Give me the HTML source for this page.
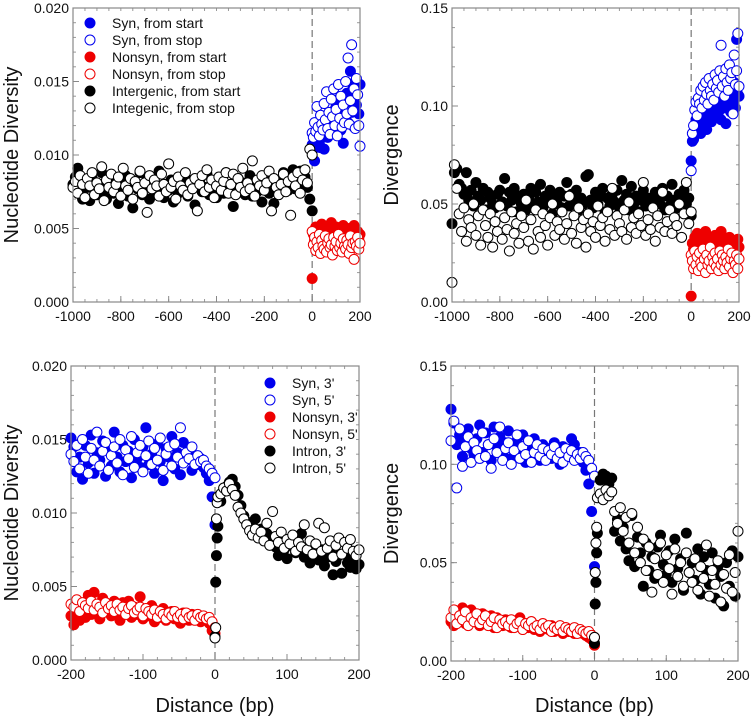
<!DOCTYPE html>
<html><head><meta charset="utf-8"><style>
html,body{margin:0;padding:0;background:#fff;}
svg{display:block;font-family:"Liberation Sans",Arial,sans-serif;}
</style></head><body>
<svg id="chart" width="751" height="719" viewBox="0 0 751 719" xmlns="http://www.w3.org/2000/svg"></svg>
<script>
// ---------- Panel A (top-left) data ----------
const xA_int=[-1000,-990,-980,-970,-960,-950,-940,-930,-920,-910,-900,-890,-880,-870,-860,-850,-840,-830,-820,-810,-800,-790,-780,-770,-760,-750,-740,-730,-720,-710,-700,-690,-680,-670,-660,-650,-640,-630,-620,-610,-600,-590,-580,-570,-560,-550,-540,-530,-520,-510,-500,-490,-480,-470,-460,-450,-440,-430,-420,-410,-400,-390,-380,-370,-360,-350,-340,-330,-320,-310,-300,-290,-280,-270,-260,-250,-240,-230,-220,-210,-200,-190,-180,-170,-160,-150,-140,-130,-120,-110,-100,-90,-80,-70,-60,-50,-40,-30,-20,-10,0];
const xA_cod=[0,5,10,15,20,25,30,35,40,45,50,55,60,65,70,75,80,85,90,95,100,105,110,115,120,125,130,135,140,145,150,155,160,165,170,175,180,185,190,195,200];
const A_intStart=[0.0080,0.0085,0.0091,0.0075,0.0070,0.0082,0.0078,0.0069,0.0084,0.0077,0.0073,0.0080,0.0088,0.0076,0.0070,0.0079,0.0083,0.0074,0.0078,0.0067,0.0081,0.0076,0.0086,0.0072,0.0079,0.0064,0.0080,0.0077,0.0088,0.0073,0.0078,0.0084,0.0070,0.0079,0.0082,0.0075,0.0089,0.0077,0.0071,0.0080,0.0076,0.0083,0.0068,0.0079,0.0074,0.0081,0.0077,0.0085,0.0072,0.0078,0.0080,0.0066,0.0079,0.0083,0.0075,0.0078,0.0087,0.0073,0.0080,0.0076,0.0071,0.0082,0.0078,0.0074,0.0088,0.0077,0.0080,0.0065,0.0079,0.0084,0.0076,0.0081,0.0073,0.0078,0.0086,0.0072,0.0079,0.0075,0.0082,0.0068,0.0077,0.0080,0.0074,0.0083,0.0067,0.0078,0.0081,0.0075,0.0088,0.0079,0.0076,0.0084,0.0090,0.0077,0.0082,0.0089,0.0080,0.0085,0.0078,0.0070,0.0062];
const A_intStop=[0.0078,0.0082,0.0074,0.0086,0.0080,0.0071,0.0084,0.0079,0.0088,0.0073,0.0081,0.0077,0.0092,0.0069,0.0083,0.0078,0.0087,0.0075,0.0080,0.0085,0.0072,0.0091,0.0079,0.0076,0.0084,0.0070,0.0082,0.0078,0.0089,0.0074,0.0081,0.0061,0.0086,0.0077,0.0083,0.0079,0.0072,0.0087,0.0080,0.0075,0.0094,0.0078,0.0082,0.0070,0.0085,0.0079,0.0076,0.0088,0.0073,0.0081,0.0077,0.0084,0.0062,0.0080,0.0086,0.0075,0.0090,0.0078,0.0083,0.0071,0.0079,0.0085,0.0076,0.0082,0.0088,0.0074,0.0080,0.0087,0.0073,0.0084,0.0078,0.0091,0.0075,0.0081,0.0077,0.0096,0.0072,0.0083,0.0079,0.0086,0.0076,0.0081,0.0089,0.0062,0.0084,0.0078,0.0073,0.0080,0.0087,0.0075,0.0082,0.0059,0.0085,0.0079,0.0088,0.0074,0.0083,0.0090,0.0081,0.0104,0.0100];
const A_synStart=[0.0107,0.0104,0.0096,0.0110,0.0106,0.0113,0.0108,0.0105,0.0112,0.0115,0.0104,0.0118,0.0121,0.0112,0.0125,0.0119,0.0127,0.0116,0.0130,0.0124,0.0133,0.0121,0.0138,0.0128,0.0117,0.0131,0.0108,0.0135,0.0126,0.0142,0.0122,0.0136,0.0157,0.0129,0.0145,0.0119,0.0150,0.0134,0.0141,0.0128,0.0148];
const A_synStop=[0.0115,0.0112,0.0122,0.0116,0.0133,0.0119,0.0113,0.0127,0.0121,0.0117,0.0135,0.0124,0.0143,0.0118,0.0129,0.0114,0.0138,0.0126,0.0145,0.0120,0.0131,0.0113,0.0148,0.0125,0.0140,0.0119,0.0134,0.0122,0.0150,0.0128,0.0166,0.0121,0.0137,0.0175,0.0130,0.0145,0.0118,0.0152,0.0141,0.0120,0.0106];
const A_nonStart=[0.0016,0.0046,0.0042,0.0051,0.0038,0.0044,0.0049,0.0040,0.0053,0.0043,0.0047,0.0039,0.0050,0.0045,0.0041,0.0048,0.0054,0.0042,0.0046,0.0039,0.0051,0.0044,0.0047,0.0040,0.0049,0.0043,0.0052,0.0045,0.0038,0.0048,0.0042,0.0050,0.0044,0.0047,0.0040,0.0052,0.0045,0.0041,0.0048,0.0043,0.0046];
const A_nonStop=[0.0048,0.0039,0.0044,0.0035,0.0041,0.0037,0.0046,0.0033,0.0042,0.0038,0.0036,0.0045,0.0034,0.0040,0.0043,0.0037,0.0039,0.0032,0.0044,0.0038,0.0041,0.0035,0.0046,0.0037,0.0040,0.0034,0.0043,0.0038,0.0036,0.0042,0.0039,0.0033,0.0045,0.0037,0.0040,0.0029,0.0041,0.0038,0.0044,0.0036,0.0040];
// ---------- Panel B (top-right) data ----------
const B_intStart=[0.040,0.066,0.068,0.060,0.058,0.055,0.066,0.052,0.057,0.049,0.061,0.054,0.052,0.058,0.047,0.056,0.053,0.050,0.048,0.055,0.057,0.051,0.063,0.049,0.056,0.052,0.058,0.046,0.054,0.050,0.055,0.047,0.053,0.058,0.049,0.056,0.051,0.060,0.048,0.054,0.052,0.057,0.045,0.053,0.050,0.056,0.048,0.054,0.061,0.049,0.055,0.051,0.057,0.047,0.053,0.050,0.064,0.065,0.052,0.048,0.056,0.050,0.054,0.058,0.046,0.053,0.049,0.055,0.051,0.057,0.048,0.062,0.052,0.055,0.047,0.059,0.050,0.054,0.046,0.052,0.057,0.049,0.053,0.051,0.048,0.056,0.052,0.050,0.058,0.047,0.054,0.049,0.060,0.052,0.048,0.055,0.051,0.057,0.050,0.053,0.044];
const B_intStop=[0.010,0.070,0.058,0.045,0.036,0.048,0.031,0.042,0.038,0.050,0.034,0.044,0.029,0.047,0.039,0.033,0.045,0.028,0.041,0.036,0.049,0.032,0.043,0.037,0.026,0.046,0.035,0.040,0.030,0.044,0.038,0.052,0.031,0.042,0.027,0.047,0.036,0.033,0.045,0.039,0.029,0.043,0.050,0.034,0.041,0.037,0.046,0.032,0.040,0.054,0.035,0.044,0.030,0.048,0.038,0.042,0.028,0.045,0.036,0.041,0.033,0.049,0.039,0.043,0.031,0.046,0.037,0.058,0.034,0.044,0.040,0.036,0.047,0.032,0.051,0.038,0.043,0.035,0.045,0.039,0.061,0.034,0.042,0.037,0.048,0.031,0.044,0.038,0.056,0.036,0.041,0.047,0.035,0.043,0.039,0.050,0.033,0.045,0.061,0.040,0.046];
const B_synStart=[0.072,0.082,0.083,0.089,0.093,0.087,0.097,0.091,0.086,0.098,0.094,0.101,0.093,0.088,0.099,0.104,0.096,0.092,0.102,0.098,0.095,0.103,0.100,0.097,0.105,0.093,0.101,0.099,0.107,0.091,0.103,0.100,0.108,0.097,0.104,0.102,0.112,0.099,0.134,0.106,0.105];
const B_synStop=[0.067,0.086,0.090,0.098,0.102,0.095,0.104,0.101,0.108,0.099,0.110,0.103,0.112,0.106,0.101,0.114,0.108,0.105,0.111,0.103,0.116,0.109,0.113,0.107,0.118,0.131,0.110,0.115,0.105,0.119,0.112,0.108,0.121,0.114,0.117,0.096,0.126,0.111,0.118,0.137,0.110];
const B_nonStart=[0.003,0.030,0.027,0.033,0.025,0.035,0.029,0.026,0.032,0.028,0.024,0.031,0.036,0.027,0.029,0.025,0.033,0.028,0.030,0.026,0.034,0.029,0.027,0.031,0.025,0.036,0.028,0.030,0.026,0.032,0.029,0.027,0.033,0.025,0.030,0.028,0.031,0.026,0.029,0.032,0.028];
const B_nonStop=[0.024,0.021,0.017,0.026,0.019,0.023,0.016,0.025,0.020,0.018,0.027,0.022,0.015,0.024,0.019,0.021,0.028,0.017,0.023,0.020,0.025,0.018,0.022,0.016,0.026,0.019,0.024,0.021,0.017,0.023,0.020,0.027,0.018,0.022,0.025,0.015,0.021,0.019,0.024,0.017,0.022];
// ---------- Bottom panels distances ----------
const xL=[-200,-196,-192,-188,-184,-180,-176,-172,-168,-164,-160,-156,-152,-148,-144,-140,-136,-132,-128,-124,-120,-116,-112,-108,-104,-100,-96,-92,-88,-84,-80,-76,-72,-68,-64,-60,-56,-52,-48,-44,-40,-36,-32,-28,-24,-20,-16,-12,-8,-4,0];
const xR=[0,1,2,3,4,8,12,16,20,24,28,32,36,40,44,48,52,56,60,64,68,72,76,80,84,88,92,96,100,104,108,112,116,120,124,128,132,136,140,144,148,152,156,160,164,168,172,176,180,184,188,192,196,200];
// ---------- Panel C (bottom-left) ----------
const C_syn3=[0.0151,0.0145,0.0128,0.0138,0.0123,0.0146,0.0134,0.0153,0.0127,0.0141,0.0136,0.0149,0.0125,0.0143,0.0132,0.0155,0.0138,0.0128,0.0146,0.0135,0.0142,0.0124,0.0150,0.0137,0.0131,0.0145,0.0158,0.0133,0.0140,0.0127,0.0147,0.0135,0.0122,0.0144,0.0138,0.0152,0.0130,0.0141,0.0126,0.0148,0.0136,0.0143,0.0129,0.0139,0.0133,0.0137,0.0131,0.0127,0.0122,0.0111,0.0092];
const C_syn5=[0.0140,0.0135,0.0146,0.0130,0.0150,0.0138,0.0127,0.0144,0.0136,0.0155,0.0132,0.0142,0.0148,0.0129,0.0139,0.0145,0.0134,0.0150,0.0126,0.0143,0.0137,0.0152,0.0131,0.0141,0.0146,0.0128,0.0139,0.0149,0.0133,0.0144,0.0136,0.0151,0.0129,0.0140,0.0145,0.0132,0.0147,0.0138,0.0158,0.0134,0.0141,0.0137,0.0145,0.0133,0.0139,0.0135,0.0136,0.0132,0.0130,0.0127,0.0124];
const C_non3=[0.0030,0.0024,0.0033,0.0027,0.0038,0.0029,0.0044,0.0031,0.0046,0.0035,0.0028,0.0042,0.0033,0.0037,0.0030,0.0040,0.0032,0.0027,0.0039,0.0033,0.0040,0.0029,0.0036,0.0031,0.0043,0.0028,0.0034,0.0030,0.0037,0.0026,0.0032,0.0029,0.0035,0.0027,0.0031,0.0033,0.0028,0.0030,0.0025,0.0032,0.0029,0.0027,0.0031,0.0028,0.0030,0.0026,0.0029,0.0027,0.0025,0.0020,0.0018];
const C_non5=[0.0038,0.0036,0.0041,0.0033,0.0039,0.0037,0.0035,0.0040,0.0034,0.0038,0.0036,0.0032,0.0039,0.0035,0.0037,0.0033,0.0038,0.0034,0.0036,0.0031,0.0035,0.0037,0.0032,0.0034,0.0036,0.0030,0.0035,0.0033,0.0031,0.0034,0.0029,0.0033,0.0031,0.0028,0.0032,0.0030,0.0033,0.0029,0.0031,0.0028,0.0032,0.0029,0.0030,0.0027,0.0031,0.0029,0.0030,0.0028,0.0029,0.0026,0.0022];
const C_int3=[0.0016,0.0053,0.0071,0.0083,0.0091,0.0108,0.0115,0.0118,0.0121,0.0123,0.0118,0.0112,0.0105,0.0098,0.0094,0.0090,0.0087,0.0096,0.0084,0.0089,0.0082,0.0086,0.0079,0.0083,0.0077,0.0071,0.0080,0.0075,0.0069,0.0078,0.0084,0.0073,0.0076,0.0086,0.0070,0.0074,0.0066,0.0079,0.0072,0.0068,0.0075,0.0064,0.0070,0.0073,0.0058,0.0067,0.0071,0.0059,0.0072,0.0066,0.0063,0.0069,0.0062,0.0065];
const C_int5=[0.0015,0.0022,0.0096,0.0107,0.0111,0.0113,0.0117,0.0115,0.0120,0.0116,0.0112,0.0104,0.0100,0.0096,0.0092,0.0088,0.0085,0.0089,0.0083,0.0087,0.0081,0.0093,0.0078,0.0101,0.0084,0.0080,0.0087,0.0076,0.0082,0.0079,0.0085,0.0074,0.0080,0.0077,0.0092,0.0075,0.0081,0.0072,0.0079,0.0093,0.0074,0.0090,0.0076,0.0081,0.0070,0.0078,0.0083,0.0072,0.0080,0.0076,0.0082,0.0074,0.0071,0.0075];
// ---------- Panel D (bottom-right) ----------
const D_syn3=[0.128,0.121,0.110,0.115,0.104,0.112,0.118,0.108,0.105,0.113,0.120,0.106,0.116,0.110,0.102,0.119,0.109,0.114,0.105,0.111,0.117,0.103,0.108,0.112,0.106,0.115,0.101,0.109,0.104,0.113,0.107,0.102,0.110,0.105,0.108,0.103,0.111,0.106,0.100,0.109,0.104,0.107,0.113,0.110,0.103,0.106,0.101,0.097,0.090,0.076,0.048];
const D_syn5=[0.112,0.122,0.088,0.118,0.099,0.109,0.114,0.101,0.111,0.107,0.103,0.116,0.104,0.110,0.098,0.113,0.106,0.119,0.102,0.108,0.111,0.100,0.107,0.115,0.103,0.109,0.105,0.112,0.101,0.106,0.110,0.104,0.108,0.102,0.107,0.105,0.109,0.103,0.106,0.101,0.108,0.104,0.107,0.102,0.105,0.103,0.106,0.104,0.102,0.098,0.094];
const D_non3=[0.020,0.018,0.024,0.021,0.027,0.019,0.023,0.026,0.020,0.022,0.018,0.024,0.021,0.019,0.023,0.017,0.022,0.020,0.018,0.021,0.019,0.017,0.020,0.018,0.022,0.016,0.019,0.017,0.020,0.016,0.018,0.015,0.019,0.017,0.016,0.018,0.015,0.017,0.016,0.014,0.017,0.015,0.016,0.014,0.016,0.015,0.014,0.013,0.012,0.011,0.008];
const D_non5=[0.022,0.026,0.019,0.023,0.021,0.025,0.018,0.022,0.020,0.024,0.019,0.021,0.023,0.018,0.020,0.022,0.017,0.021,0.019,0.020,0.018,0.021,0.017,0.019,0.020,0.016,0.019,0.018,0.020,0.017,0.018,0.016,0.019,0.017,0.018,0.015,0.017,0.016,0.018,0.015,0.017,0.016,0.015,0.017,0.014,0.016,0.015,0.014,0.015,0.013,0.012];
const D_int3=[0.009,0.029,0.040,0.055,0.065,0.092,0.095,0.094,0.090,0.093,0.066,0.072,0.061,0.068,0.057,0.051,0.074,0.048,0.063,0.055,0.038,0.060,0.046,0.053,0.042,0.058,0.064,0.049,0.044,0.056,0.040,0.062,0.047,0.052,0.036,0.065,0.045,0.050,0.041,0.057,0.034,0.053,0.046,0.039,0.055,0.032,0.048,0.043,0.028,0.050,0.038,0.056,0.033,0.053];
const D_int5=[0.012,0.045,0.060,0.068,0.083,0.085,0.082,0.087,0.084,0.086,0.076,0.070,0.078,0.066,0.073,0.060,0.075,0.055,0.068,0.050,0.062,0.046,0.058,0.035,0.052,0.044,0.060,0.040,0.054,0.047,0.034,0.057,0.043,0.050,0.038,0.055,0.045,0.040,0.052,0.036,0.048,0.042,0.059,0.033,0.046,0.039,0.051,0.030,0.044,0.037,0.054,0.035,0.045,0.066];
const topXTicks=[-1000,-800,-600,-400,-200,0,200];
const botXTicks=[-200,-100,0,100,200];
const divTicks=[0,0.05,0.10,0.15];
const ndTicks=[0,0.005,0.010,0.015,0.020];

const NS='http://www.w3.org/2000/svg';
const svg=document.getElementById('chart');
function mk(tag,attrs,parent){const e=document.createElementNS(NS,tag);for(const k in attrs)e.setAttribute(k,attrs[k]);(parent||svg).appendChild(e);return e;}
const BLUE='#0000ee',RED='#ee0000',BLACK='#000';

function panel(p){
  const g=mk('g',{});
  
  
  const sx=v=>p.x0+(v-p.xmin)/(p.xmax-p.xmin)*(p.x1-p.x0);
  const sy=v=>p.y1-(v-p.ymin)/(p.ymax-p.ymin)*(p.y1-p.y0);
  // minor ticks
  for(let v=p.xmin;v<=p.xmax+1e-9;v+=p.xminor){const X=sx(v);
    const t1=mk('line',{x1:X,x2:X,y1:p.y1,y2:p.y1-3,stroke:'#999','stroke-width':1},g);
    
    const t2=mk('line',{x1:X,x2:X,y1:p.y0,y2:p.y0+3,stroke:'#999','stroke-width':1},g);
    }
  for(let v=p.ymin;v<=p.ymax+1e-9;v+=p.yminor){const Y=sy(v);
    const t1=mk('line',{x1:p.x0,x2:p.x0+3,y1:Y,y2:Y,stroke:'#999','stroke-width':1},g);
    
    const t2=mk('line',{x1:p.x1,x2:p.x1-3,y1:Y,y2:Y,stroke:'#999','stroke-width':1},g);
    }
  p.xticks.forEach(v=>{const X=sx(v);
    const t=mk('line',{x1:X,x2:X,y1:p.y1,y2:p.y1-6,stroke:'#888','stroke-width':1},g);
    
    const l=mk('text',{x:X,y:p.y1+19,'font-size':14,'text-anchor':'middle',fill:'#111'},g);
    l.textContent=v;
    });
  p.yticks.forEach(v=>{const Y=sy(v);
    const t=mk('line',{x1:p.x0,x2:p.x0+6,y1:Y,y2:Y,stroke:'#888','stroke-width':1},g);
    
    const l=mk('text',{x:p.x0-4,y:Y+5,'font-size':14,'text-anchor':'end',fill:'#111'},g);
    l.textContent=v.toFixed(p.ydec);
    });
  const dl=mk('line',{x1:sx(0),x2:sx(0),y1:p.y0,y2:p.y1,stroke:'#777','stroke-width':1.2,'stroke-dasharray':'7,4'},g);
  
  p.series.forEach(s=>{
    const sg=mk('g',{},g);
    
    
    const n=Math.min(s.x.length,s.y.length);
    for(let i=0;i<n;i++){
      const c=mk('circle',{cx:sx(s.x[i]),cy:sy(s.y[i]),r:5,fill:s.open?'#fff':s.c,stroke:s.c,'stroke-width':1},sg);
      
      
    }
  });
  const fr=mk('rect',{x:p.x0,y:p.y0,width:p.x1-p.x0,height:p.y1-p.y0,fill:'none',stroke:'#888','stroke-width':1.2},g);
  
  const yt=mk('text',{x:0,y:0,'font-size':20,'text-anchor':'middle',fill:'#111',transform:`translate(${p.ytx},${(p.y0+p.y1)/2}) rotate(-90)`},g);
  yt.textContent=p.ytitle;
  
  if(p.xtitle){const xt=mk('text',{x:(p.x0+p.x1)/2,y:712,'font-size':20,'text-anchor':'middle',fill:'#111'},g);
    xt.textContent=p.xtitle;
    }
  if(p.legend){const lg=mk('g',{},g);
    
    p.legend.items.forEach((it,i)=>{const Y=p.legend.y+i*17;
      const c=mk('circle',{cx:p.legend.x,cy:Y,r:5,fill:it.open?'#fff':it.c,stroke:it.c,'stroke-width':1},lg);
      
      const t=mk('text',{x:p.legend.x+22,y:Y+5,'font-size':14,fill:'#111'},lg);
      t.textContent=it.t;
      });}
}

panel({name:'panel-diversity-genes',x0:73,x1:360,y0:8,y1:302,xmin:-1000,xmax:200,ymin:0,ymax:0.02,xminor:50,yminor:0.001,
  xticks:topXTicks,yticks:ndTicks,ydec:3,ytitle:'Nucleotide Diversity',ytx:18,
  series:[{name:'syn-from-start',x:xA_cod,y:A_synStart,c:BLUE},{name:'syn-from-stop',x:xA_cod,y:A_synStop,c:BLUE,open:1},
    {name:'nonsyn-from-start',x:xA_cod,y:A_nonStart,c:RED},{name:'nonsyn-from-stop',x:xA_cod,y:A_nonStop,c:RED,open:1},
    {name:'intergenic-from-start',x:xA_int,y:A_intStart,c:BLACK},{name:'intergenic-from-stop',x:xA_int,y:A_intStop,c:BLACK,open:1}],
  legend:{x:90,y:23,items:[{t:'Syn, from start',c:BLUE},{t:'Syn, from stop',c:BLUE,open:1},{t:'Nonsyn, from start',c:RED},{t:'Nonsyn, from stop',c:RED,open:1},{t:'Intergenic, from start',c:BLACK},{t:'Integenic, from stop',c:BLACK,open:1}]}});
panel({name:'panel-divergence-genes',x0:452,x1:739,y0:8,y1:302,xmin:-1000,xmax:200,ymin:0,ymax:0.15,xminor:50,yminor:0.01,
  xticks:topXTicks,yticks:divTicks,ydec:2,ytitle:'Divergence',ytx:398,
  series:[{name:'syn-from-start',x:xA_cod,y:B_synStart,c:BLUE},{name:'syn-from-stop',x:xA_cod,y:B_synStop,c:BLUE,open:1},
    {name:'nonsyn-from-start',x:xA_cod,y:B_nonStart,c:RED},{name:'nonsyn-from-stop',x:xA_cod,y:B_nonStop,c:RED,open:1},
    {name:'intergenic-from-start',x:xA_int,y:B_intStart,c:BLACK},{name:'intergenic-from-stop',x:xA_int,y:B_intStop,c:BLACK,open:1}]});
panel({name:'panel-diversity-introns',x0:71,x1:359,y0:366,y1:660,xmin:-200,xmax:200,ymin:0,ymax:0.02,xminor:20,yminor:0.001,
  xticks:botXTicks,yticks:ndTicks,ydec:3,ytitle:'Nucleotide Diversity',ytx:18,xtitle:'Distance (bp)',
  series:[{name:'syn-3prime',x:xL,y:C_syn3,c:BLUE},{name:'syn-5prime',x:xL,y:C_syn5,c:BLUE,open:1},
    {name:'nonsyn-3prime',x:xL,y:C_non3,c:RED},{name:'nonsyn-5prime',x:xL,y:C_non5,c:RED,open:1},
    {name:'intron-3prime',x:xR,y:C_int3,c:BLACK},{name:'intron-5prime',x:xR,y:C_int5,c:BLACK,open:1}],
  legend:{x:270,y:383,items:[{t:"Syn, 3'",c:BLUE},{t:"Syn, 5'",c:BLUE,open:1},{t:"Nonsyn, 3'",c:RED},{t:"Nonsyn, 5'",c:RED,open:1},{t:"Intron, 3'",c:BLACK},{t:"Intron, 5'",c:BLACK,open:1}]}});
panel({name:'panel-divergence-introns',x0:451,x1:738,y0:366,y1:661,xmin:-200,xmax:200,ymin:0,ymax:0.15,xminor:20,yminor:0.01,
  xticks:botXTicks,yticks:divTicks,ydec:2,ytitle:'Divergence',ytx:398,xtitle:'Distance (bp)',
  series:[{name:'syn-3prime',x:xL,y:D_syn3,c:BLUE},{name:'syn-5prime',x:xL,y:D_syn5,c:BLUE,open:1},
    {name:'nonsyn-3prime',x:xL,y:D_non3,c:RED},{name:'nonsyn-5prime',x:xL,y:D_non5,c:RED,open:1},
    {name:'intron-3prime',x:xR,y:D_int3,c:BLACK},{name:'intron-5prime',x:xR,y:D_int5,c:BLACK,open:1}]});
</script>
</body></html>
